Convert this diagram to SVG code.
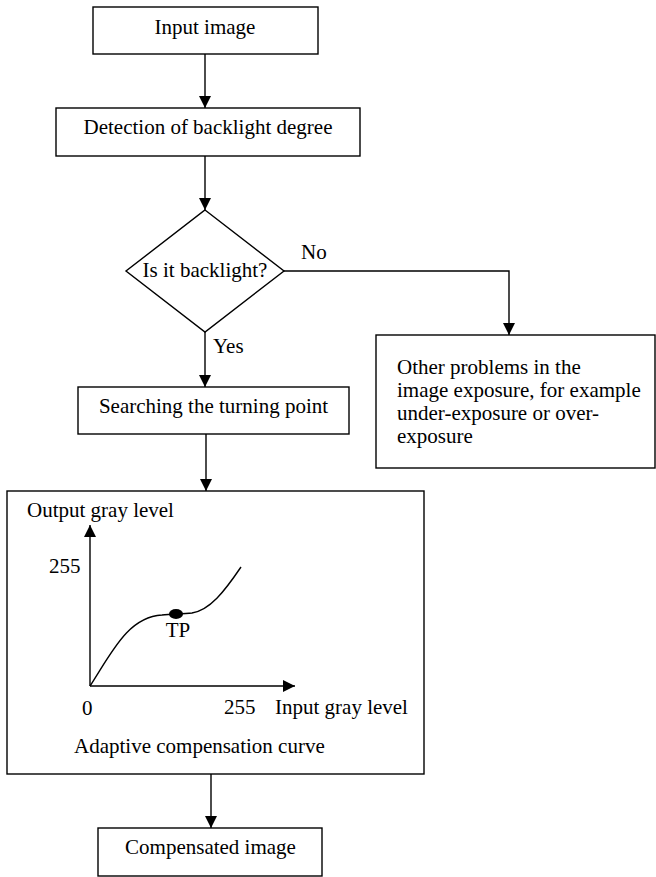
<svg xmlns="http://www.w3.org/2000/svg" width="656" height="877" viewBox="0 0 656 877">
<style>
.box{fill:#fff;stroke:#000;stroke-width:1.4}
.ln{fill:none;stroke:#000;stroke-width:1.4}
.t{font-family:"Liberation Serif","Times New Roman",serif;font-size:21px;fill:#000}
.m{text-anchor:middle}
</style>
<defs>
<marker id="ah" markerUnits="userSpaceOnUse" markerWidth="12" markerHeight="12" refX="12" refY="6" orient="auto" viewBox="0 0 12 12">
<path d="M0,0 L12,6 L0,12 z" fill="#000"/>
</marker>
</defs>
<g id="connectors">
<line class="ln" x1="205" y1="54" x2="205" y2="108" marker-end="url(#ah)"/>
<line class="ln" x1="205" y1="156" x2="205" y2="210" marker-end="url(#ah)"/>
<polyline class="ln" points="284,271 509,271 509,335" marker-end="url(#ah)"/>
<line class="ln" x1="205" y1="332" x2="205" y2="387" marker-end="url(#ah)"/>
<line class="ln" x1="206" y1="434" x2="206" y2="491" marker-end="url(#ah)"/>
<line class="ln" x1="211" y1="774" x2="211" y2="828" marker-end="url(#ah)"/>
<text class="t" x="301" y="259">No</text>
<text class="t" x="213" y="353">Yes</text>
</g>
<g id="input">
<rect class="box" x="93" y="7" width="225" height="47"/>
<text class="t m" x="205" y="34">Input image</text>
</g>
<g id="detection">
<rect class="box" x="56" y="108" width="304" height="48"/>
<text class="t m" x="208" y="134">Detection of backlight degree</text>
</g>
<g id="decision">
<polygon class="box" points="205,210 284,271 205,332 126,271"/>
<text class="t m" x="205" y="277">Is it backlight?</text>
</g>
<g id="other">
<rect class="box" x="376" y="335" width="279" height="133"/>
<text class="t" x="397" y="374">Other problems in the</text>
<text class="t" x="397" y="397">image exposure, for example</text>
<text class="t" x="397" y="420">under-exposure or over-</text>
<text class="t" x="397" y="443">exposure</text>
</g>
<g id="searching">
<rect class="box" x="78" y="387" width="271" height="47"/>
<text class="t m" x="213.5" y="413">Searching the turning point</text>
</g>
<g id="curve">
<rect class="box" x="7" y="491" width="417" height="283"/>
<text class="t" x="27" y="517">Output gray level</text>
<line class="ln" x1="90" y1="686" x2="90" y2="525" marker-end="url(#ah)"/>
<line class="ln" x1="90" y1="686" x2="295" y2="686" marker-end="url(#ah)"/>
<path class="ln" d="M90,686 C112,652 128,617 162,615 C172,614 182,614 192,613 C210,610 224,592 241,567"/>
<ellipse cx="176" cy="614" rx="7" ry="5" fill="#000"/>
<text class="t" x="49" y="573">255</text>
<text class="t m" x="178" y="637">TP</text>
<text class="t" x="82" y="715">0</text>
<text class="t" x="224" y="714">255</text>
<text class="t" x="275" y="714">Input gray level</text>
<text class="t" x="74" y="753">Adaptive compensation curve</text>
</g>
<g id="compensated">
<rect class="box" x="98" y="828" width="224" height="48"/>
<text class="t m" x="210.5" y="854">Compensated image</text>
</g>
</svg>
